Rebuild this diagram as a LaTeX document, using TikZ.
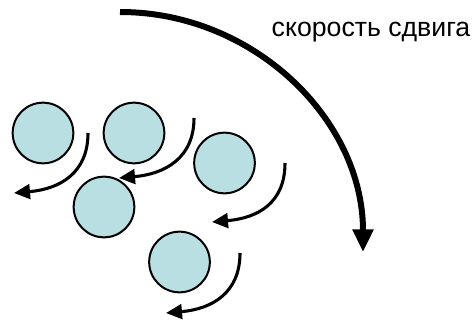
\documentclass[tikz,border=0pt]{standalone}
\usepackage{fontspec}
\setmainfont{Liberation Sans}
\usetikzlibrary{arrows.meta}
\definecolor{ballfill}{RGB}{185,223,227}
\tikzset{
  ball/.style={circle, draw=black, line width=1.5pt, fill=ballfill, minimum size=45.5pt, inner sep=0pt},
  flow/.style={line width=2.3pt, -{Triangle[length=12pt,width=11pt]}},
  shear/.style={line width=4.5pt, -{Triangle[length=17pt,width=15pt]}},
}
\begin{document}
\begin{tikzpicture}[x=0.75pt,y=-0.75pt]
\useasboundingbox (0,0) rectangle (473,321);
% particles
\node[ball] (c1) at (43,133) {};
\node[ball] (c2) at (134,133) {};
\node[ball] (c3) at (224.5,163) {};
\node[ball] (c4) at (104,207) {};
\node[ball] (c5) at (179.5,262) {};
% small flow arrows
\coordinate (a1s) at (88,133);  \coordinate (a1e) at (14,193);
\coordinate (a2s) at (194,118); \coordinate (a2e) at (119,178);
\coordinate (a3s) at (285,163); \coordinate (a3e) at (212,222);
\coordinate (a4s) at (240,253); \coordinate (a4e) at (166,313);
\draw[flow] (a1s) .. controls ++(0,40) and ++(46,-4) .. (a1e);
\draw[flow] (a2s) .. controls ++(0,40) and ++(46,-4) .. (a2e);
\draw[flow] (a3s) .. controls ++(0,40) and ++(46,-4) .. (a3e);
\draw[flow] (a4s) .. controls ++(0,40) and ++(46,-4) .. (a4e);
% big shear arrow
\coordinate (bs) at (120,12);
\coordinate (be) at (363,252);
\draw[shear] (bs) .. controls (254,12) and (363,120) .. (be);
\node[font=\fontsize{20}{23}\selectfont, anchor=center] (lbl) at (371,32) {скорость сдвига};
\end{tikzpicture}
\end{document}
